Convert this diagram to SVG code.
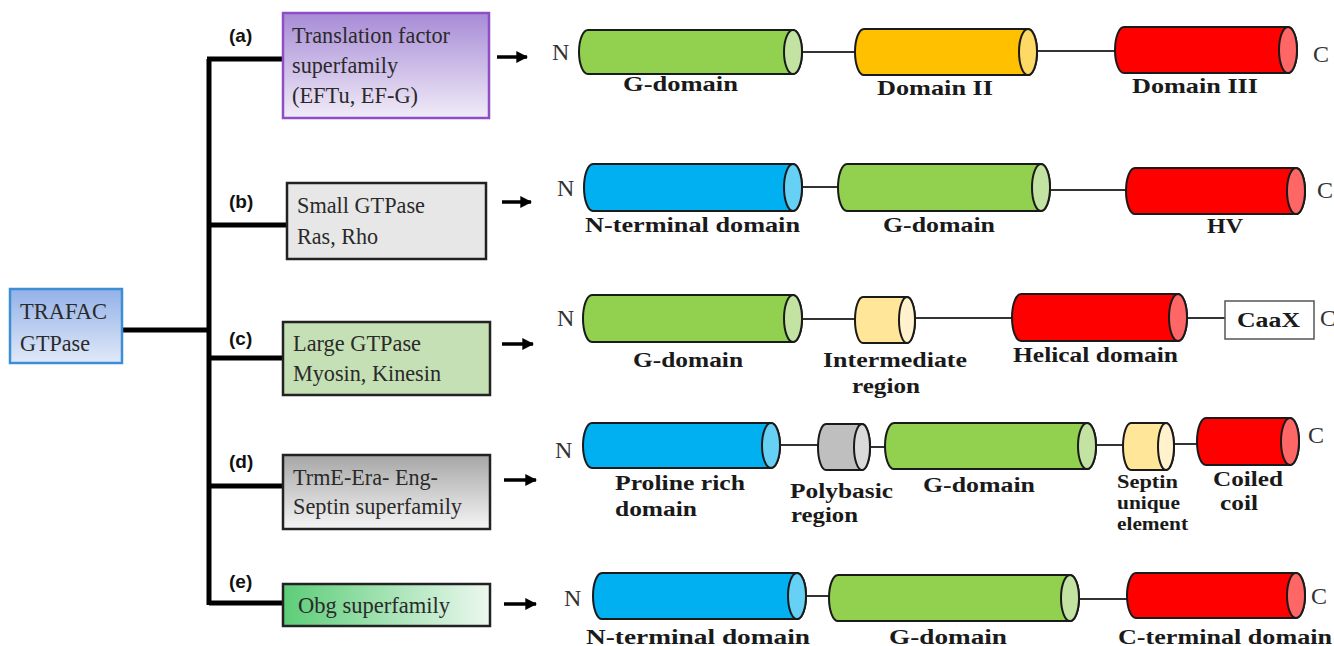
<svg xmlns="http://www.w3.org/2000/svg" width="1334" height="646" viewBox="0 0 1334 646">
<defs>
<style>
.box{stroke:#222;stroke-width:2.5}
.bt{font-family:"Liberation Serif","Times New Roman",serif;font-size:24px;fill:#2a2a2a}
.tag{font-family:"Liberation Sans",Arial,sans-serif;font-weight:bold;font-size:19px;fill:#111}
.tree{stroke:#000;stroke-width:5;fill:none}
.arr{stroke:#000;stroke-width:3.5;fill:none}
.lbl{font-family:"Liberation Serif","Times New Roman",serif;font-weight:bold;font-size:20px;fill:#1a1a1a}
.end{font-family:"Liberation Serif","Times New Roman",serif;font-size:24px;fill:#333}
.cyl{stroke:#1a1a1a;stroke-width:2}
.lnk{stroke:#333;stroke-width:2}
.green{fill:#92d050}.greenc{fill:#c3e3a2}
.blue{fill:#00b0f0}.bluec{fill:#66d1f5}
.red{fill:#ff0000}.redc{fill:#ff6666}
.orange{fill:#ffc000}.orangec{fill:#ffd966}
.yel{fill:#ffe699}.yelc{fill:#fff2cc}
.gray{fill:#bfbfbf}.grayc{fill:#dadada}
</style>
<linearGradient id="gTra" x1="0" y1="0" x2="0" y2="1"><stop offset="0" stop-color="#93b1e8"/><stop offset="1" stop-color="#e0e9f8"/></linearGradient>
<linearGradient id="gA" x1="0" y1="0" x2="0" y2="1"><stop offset="0" stop-color="#a78bd6"/><stop offset="1" stop-color="#f1ecf8"/></linearGradient>
<linearGradient id="gD" x1="0" y1="0" x2="0" y2="1"><stop offset="0" stop-color="#a6a6a6"/><stop offset="1" stop-color="#f5f5f5"/></linearGradient>
<linearGradient id="gE" x1="0" y1="0" x2="1" y2="0"><stop offset="0" stop-color="#5ccd78"/><stop offset="1" stop-color="#ecf8ef"/></linearGradient>
<marker id="ah" viewBox="0 0 10 10" refX="9" refY="5" markerWidth="3.4" markerHeight="3.4" orient="auto"><path d="M0,0 L10,5 L0,10 Z" fill="#000"/></marker>
</defs>
<rect width="1334" height="646" fill="#fff"/>

<g id="connectors">
<path class="tree" d="M123 330 H209 M209 59 V605 M207 59 H284 M209 225 H288 M209 358 H284 M209 486 H284 M209 603 H284"/>
<line class="arr" x1="497" y1="57" x2="527" y2="57" marker-end="url(#ah)"/>
<line class="arr" x1="502" y1="202" x2="531" y2="202" marker-end="url(#ah)"/>
<line class="arr" x1="502" y1="344" x2="533" y2="344" marker-end="url(#ah)"/>
<line class="arr" x1="504" y1="480" x2="536" y2="480" marker-end="url(#ah)"/>
<line class="arr" x1="504" y1="604" x2="536" y2="604" marker-end="url(#ah)"/>
<line class="lnk" x1="800" y1="52" x2="856" y2="52"/>
<line class="lnk" x1="1035" y1="51" x2="1116" y2="51"/>
<line class="lnk" x1="800" y1="187" x2="839" y2="187"/>
<line class="lnk" x1="1048" y1="190" x2="1127" y2="190"/>
<line class="lnk" x1="800" y1="319" x2="856" y2="319"/>
<line class="lnk" x1="913" y1="318" x2="1013" y2="318"/>
<line class="lnk" x1="1185" y1="318" x2="1225" y2="318"/>
<line class="lnk" x1="778" y1="445" x2="819" y2="445"/>
<line class="lnk" x1="868" y1="447" x2="886" y2="447"/>
<line class="lnk" x1="1094" y1="445" x2="1124" y2="445"/>
<line class="lnk" x1="1173" y1="444" x2="1198" y2="444"/>
<line class="lnk" x1="804" y1="596" x2="830" y2="596"/>
<line class="lnk" x1="1077" y1="599" x2="1128" y2="599"/>
</g>

<g id="trafac">
<rect x="10" y="289" width="112" height="74" fill="url(#gTra)" stroke="#3c8ed6" stroke-width="2.5"/>
<text class="bt" x="20" y="319" textLength="87" lengthAdjust="spacingAndGlyphs">TRAFAC</text>
<text class="bt" x="20" y="351" textLength="70" lengthAdjust="spacingAndGlyphs">GTPase</text>
</g>

<g id="fam-a">
<text class="tag" x="229" y="42">(a)</text>
<rect x="283" y="13" width="206" height="105" fill="url(#gA)" stroke="#8e4fc6" stroke-width="2.5"/>
<text class="bt" x="292" y="43" textLength="158" lengthAdjust="spacingAndGlyphs">Translation factor</text>
<text class="bt" x="292" y="73" textLength="106" lengthAdjust="spacingAndGlyphs">superfamily</text>
<text class="bt" x="292" y="103" textLength="126" lengthAdjust="spacingAndGlyphs">(EFTu, EF-G)</text>
</g>
<g id="fam-b">
<text class="tag" x="229" y="208">(b)</text>
<rect class="box" x="287" y="183" width="199" height="76" fill="#e7e7e7"/>
<text class="bt" x="297" y="213" textLength="128" lengthAdjust="spacingAndGlyphs">Small GTPase</text>
<text class="bt" x="297" y="244" textLength="81" lengthAdjust="spacingAndGlyphs">Ras, Rho</text>
</g>
<g id="fam-c">
<text class="tag" x="229" y="345">(c)</text>
<rect class="box" x="283" y="322" width="207" height="73" fill="#c5e0b4"/>
<text class="bt" x="293" y="351" textLength="128" lengthAdjust="spacingAndGlyphs">Large GTPase</text>
<text class="bt" x="293" y="381" textLength="148" lengthAdjust="spacingAndGlyphs">Myosin, Kinesin</text>
</g>
<g id="fam-d">
<text class="tag" x="229" y="468">(d)</text>
<rect class="box" x="283" y="455" width="207" height="74" fill="url(#gD)"/>
<text class="bt" x="293" y="485" textLength="145" lengthAdjust="spacingAndGlyphs">TrmE-Era- Eng-</text>
<text class="bt" x="293" y="514" textLength="169" lengthAdjust="spacingAndGlyphs">Septin superfamily</text>
</g>
<g id="fam-e">
<text class="tag" x="229" y="588">(e)</text>
<rect class="box" x="283" y="584" width="207" height="42" fill="url(#gE)"/>
<text class="bt" x="298" y="613" textLength="152" lengthAdjust="spacingAndGlyphs">Obg superfamily</text>
</g>

<g id="row-a">
<text class="end" x="552" y="60">N</text>
<path class="cyl green" d="M588 30 H793 A9 22 0 0 1 793 74 H588 A9 22 0 0 1 588 30 Z"/>
<ellipse class="cyl greenc" cx="793" cy="52" rx="9" ry="22"/>
<text class="lbl" x="623" y="91" textLength="115" lengthAdjust="spacingAndGlyphs">G-domain</text>
<path class="cyl orange" d="M864 29 H1028 A9 23 0 0 1 1028 75 H864 A9 23 0 0 1 864 29 Z"/>
<ellipse class="cyl orangec" cx="1028" cy="52" rx="9" ry="23"/>
<text class="lbl" x="877" y="95" textLength="116" lengthAdjust="spacingAndGlyphs">Domain II</text>
<path class="cyl red" d="M1124 27 H1288 A9 23 0 0 1 1288 73 H1124 A9 23 0 0 1 1124 27 Z"/>
<ellipse class="cyl redc" cx="1288" cy="50" rx="9" ry="23"/>
<text class="lbl" x="1132" y="93" textLength="126" lengthAdjust="spacingAndGlyphs">Domain III</text>
<text class="end" x="1313" y="62">C</text>
</g>

<g id="row-b">
<text class="end" x="557" y="196">N</text>
<path class="cyl blue" d="M593 164 H793 A9 23.5 0 0 1 793 211 H593 A9 23.5 0 0 1 593 164 Z"/>
<ellipse class="cyl bluec" cx="793" cy="187.5" rx="9" ry="23.5"/>
<text class="lbl" x="585" y="232" textLength="215" lengthAdjust="spacingAndGlyphs">N-terminal domain</text>
<path class="cyl green" d="M847 164 H1041 A9 23.5 0 0 1 1041 211 H847 A9 23.5 0 0 1 847 164 Z"/>
<ellipse class="cyl greenc" cx="1041" cy="187.5" rx="9" ry="23.5"/>
<text class="lbl" x="883" y="232" textLength="112" lengthAdjust="spacingAndGlyphs">G-domain</text>
<path class="cyl red" d="M1135 168 H1296 A9 23 0 0 1 1296 214 H1135 A9 23 0 0 1 1135 168 Z"/>
<ellipse class="cyl redc" cx="1296" cy="191" rx="9" ry="23"/>
<text class="lbl" x="1207" y="233" textLength="36" lengthAdjust="spacingAndGlyphs">HV</text>
<text class="end" x="1317" y="198">C</text>
</g>

<g id="row-c">
<text class="end" x="557" y="326">N</text>
<path class="cyl green" d="M592 295 H793 A9 23.5 0 0 1 793 342 H592 A9 23.5 0 0 1 592 295 Z"/>
<ellipse class="cyl greenc" cx="793" cy="318.5" rx="9" ry="23.5"/>
<text class="lbl" x="633" y="367" textLength="110" lengthAdjust="spacingAndGlyphs">G-domain</text>
<path class="cyl yel" d="M863 297 H907 A8 23 0 0 1 907 343 H863 A8 23 0 0 1 863 297 Z"/>
<ellipse class="cyl yelc" cx="907" cy="320" rx="8" ry="23"/>
<text class="lbl" x="823" y="367" textLength="144" lengthAdjust="spacingAndGlyphs">Intermediate</text>
<text class="lbl" x="852" y="393" textLength="68" lengthAdjust="spacingAndGlyphs">region</text>
<path class="cyl red" d="M1021 294 H1178 A9 23.5 0 0 1 1178 341 H1021 A9 23.5 0 0 1 1021 294 Z"/>
<ellipse class="cyl redc" cx="1178" cy="317.5" rx="9" ry="23.5"/>
<text class="lbl" x="1013" y="362" textLength="165" lengthAdjust="spacingAndGlyphs">Helical domain</text>
<rect x="1225" y="301" width="89" height="38" fill="#fff" stroke="#555" stroke-width="1.5"/>
<text class="lbl" x="1237" y="327" textLength="63" lengthAdjust="spacingAndGlyphs">CaaX</text>
<text class="end" x="1320" y="326">C</text>
</g>

<g id="row-d">
<text class="end" x="555" y="458">N</text>
<path class="cyl blue" d="M592 423 H771 A9 22.5 0 0 1 771 468 H592 A9 22.5 0 0 1 592 423 Z"/>
<ellipse class="cyl bluec" cx="771" cy="445.5" rx="9" ry="22.5"/>
<text class="lbl" x="615" y="490" textLength="130" lengthAdjust="spacingAndGlyphs">Proline rich</text>
<text class="lbl" x="615" y="516" textLength="82" lengthAdjust="spacingAndGlyphs">domain</text>
<path class="cyl gray" d="M826 424 H862 A8 23 0 0 1 862 470 H826 A8 23 0 0 1 826 424 Z"/>
<ellipse class="cyl grayc" cx="862" cy="447" rx="8" ry="23"/>
<text class="lbl" x="790" y="498" textLength="103" lengthAdjust="spacingAndGlyphs">Polybasic</text>
<text class="lbl" x="791" y="522" textLength="67" lengthAdjust="spacingAndGlyphs">region</text>
<path class="cyl green" d="M894 423 H1087 A9 23 0 0 1 1087 469 H894 A9 23 0 0 1 894 423 Z"/>
<ellipse class="cyl greenc" cx="1087" cy="446" rx="9" ry="23"/>
<text class="lbl" x="923" y="492" textLength="112" lengthAdjust="spacingAndGlyphs">G-domain</text>
<path class="cyl yel" d="M1131 423 H1166 A8 23.5 0 0 1 1166 470 H1131 A8 23.5 0 0 1 1131 423 Z"/>
<ellipse class="cyl yelc" cx="1166" cy="446.5" rx="8" ry="23.5"/>
<text class="lbl" x="1117" y="488" style="font-size:18px" textLength="61" lengthAdjust="spacingAndGlyphs">Septin</text>
<text class="lbl" x="1117" y="509" style="font-size:18px" textLength="63" lengthAdjust="spacingAndGlyphs">unique</text>
<text class="lbl" x="1117" y="530" style="font-size:18px" textLength="71" lengthAdjust="spacingAndGlyphs">element</text>
<path class="cyl red" d="M1206 418 H1290 A9 23.5 0 0 1 1290 465 H1206 A9 23.5 0 0 1 1206 418 Z"/>
<ellipse class="cyl redc" cx="1290" cy="441.5" rx="9" ry="23.5"/>
<text class="lbl" x="1213" y="486" textLength="70" lengthAdjust="spacingAndGlyphs">Coiled</text>
<text class="lbl" x="1220" y="510" textLength="38" lengthAdjust="spacingAndGlyphs">coil</text>
<text class="end" x="1308" y="443">C</text>
</g>

<g id="row-e">
<text class="end" x="564" y="606">N</text>
<path class="cyl blue" d="M602 573 H797 A9 23 0 0 1 797 619 H602 A9 23 0 0 1 602 573 Z"/>
<ellipse class="cyl bluec" cx="797" cy="596" rx="9" ry="23"/>
<text class="lbl" x="586" y="644" textLength="224" lengthAdjust="spacingAndGlyphs">N-terminal domain</text>
<path class="cyl green" d="M838 575 H1070 A9 23 0 0 1 1070 621 H838 A9 23 0 0 1 838 575 Z"/>
<ellipse class="cyl greenc" cx="1070" cy="598" rx="9" ry="23"/>
<text class="lbl" x="889" y="644" textLength="118" lengthAdjust="spacingAndGlyphs">G-domain</text>
<path class="cyl red" d="M1136 573 H1296 A9 22.5 0 0 1 1296 618 H1136 A9 22.5 0 0 1 1136 573 Z"/>
<ellipse class="cyl redc" cx="1296" cy="595.5" rx="9" ry="22.5"/>
<text class="lbl" x="1118" y="644" textLength="214" lengthAdjust="spacingAndGlyphs">C-terminal domain</text>
<text class="end" x="1311" y="604">C</text>
</g>
</svg>
